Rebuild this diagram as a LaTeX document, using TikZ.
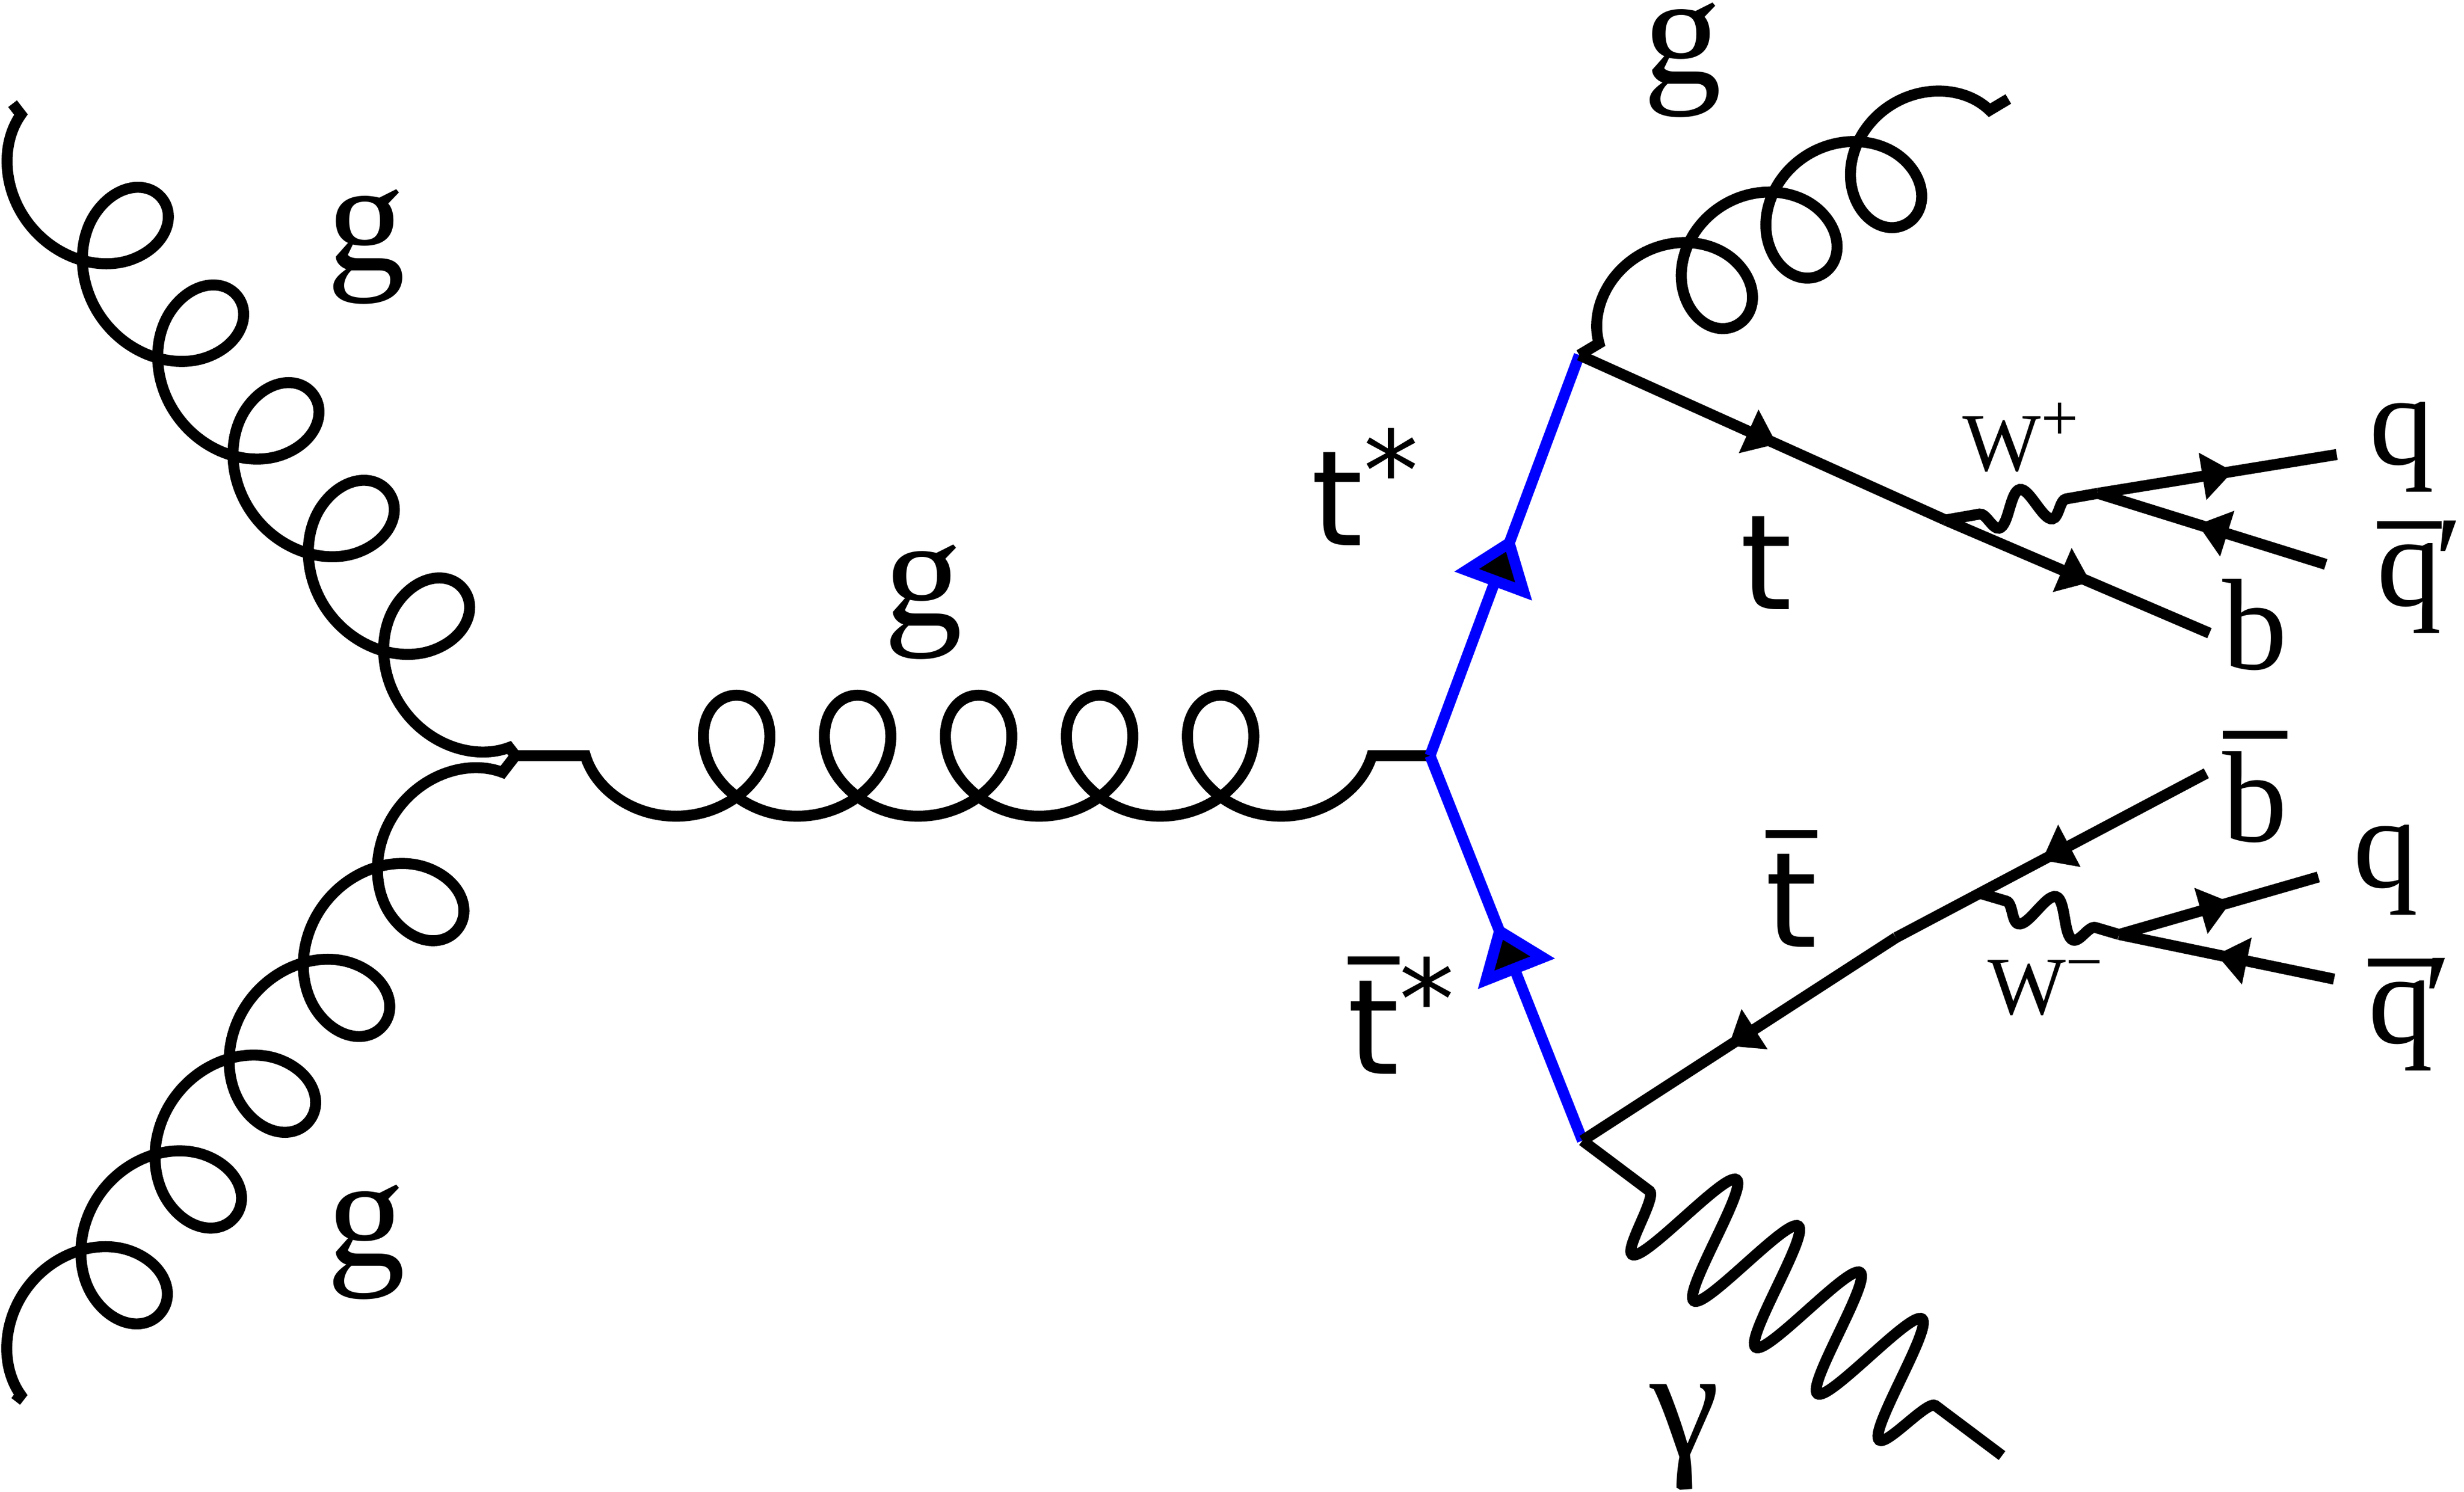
\documentclass[tikz,border=0pt]{standalone}
\usepackage{fontspec}
\setmainfont{Liberation Serif}
\newfontfamily\sansfont{DejaVu Sans}
\usetikzlibrary{arrows.meta,calc,decorations.pathmorphing,decorations.markings}
\newcommand{\ovl}[2][2.6pt]{\vbox{\hrule height 1.4pt\kern#1\hbox{#2}}}

\begin{document}
\begin{tikzpicture}[line width=0.07cm,
    every node/.style={inner sep=0pt, anchor=base},
    lbl/.style={font=\fontsize{28.5}{32}\selectfont},
    tlbl/.style={font=\sansfont\fontsize{24}{28}\selectfont, anchor=base west},
    qlbl/.style={font=\fontsize{23.5}{26}\selectfont},
    wlbl/.style={font=\fontsize{15}{17}\selectfont, anchor=base west},
    ftip/.tip={Triangle[length=5.6pt,width=8.3pt]},
    stip/.tip={Triangle[length=10pt,width=14.5pt,fill=black]},
    fermion/.style={postaction={decorate, decoration={markings,
        mark=at position #1 with {\arrow{ftip}}}}},
    fermion/.default=0.55,
    scalar/.style={blue, postaction={decorate, decoration={markings,
        mark=at position #1 with {\arrow{stip}}}}},
    scalar/.default=0.56,
    gluon/.style={decorate, decoration={coil, aspect=1, amplitude=0.385cm,
        segment length=0.77cm, #1}},
    boson/.style={decorate, decoration={snake, #1}}]

  \useasboundingbox (0,0) rectangle (15.68,-9.4935);

  \coordinate (V1) at (3.28,-4.81);
  \coordinate (V2) at (9.10,-4.81);
  \coordinate (V3) at (10.05,-2.26);
  \coordinate (V4) at (10.07,-7.26);
  \coordinate (gul) at (0.08,-0.66);
  \coordinate (gll) at (0.10,-8.92);
  \coordinate (gtr) at (12.78,-0.63);
  \coordinate (K1) at (12.38,-3.31);
  \coordinate (bE) at (14.06,-4.03);
  \coordinate (Wp) at (13.35,-3.14);
  \coordinate (qU) at (14.87,-2.893);
  \coordinate (qbU) at (14.80,-3.592);
  \coordinate (K2) at (12.065,-5.968);
  \coordinate (bbE) at (14.04,-4.922);
  \coordinate (Wm0) at ($(K2)!0.27!(bbE)$);
  \coordinate (Wm) at (13.485,-5.948);
  \coordinate (qL) at (14.753,-5.582);
  \coordinate (qbL) at (14.853,-6.232);
  \coordinate (phE) at (12.74,-9.265);

  \draw[gluon={pre length=0.37cm, post length=0.43cm}] (V2) -- (V1);
  \draw[gluon={segment length=0.785cm, pre length=0.066cm}] (V1) -- (gul);
  \draw[gluon={segment length=0.771cm, pre length=0.052cm}] (gll) -- (V1);
  \draw[gluon={amplitude=0.35cm, segment length=0.627cm, pre length=0.146cm,
      post length=0.08cm}] (V3) -- (gtr);

  \draw[scalar=0.553] (V2) -- (V3);
  \draw[scalar=0.567] (V4) -- (V2);

  \draw[fermion=0.54] (V3) -- (K1);
  \draw[fermion] (K1) -- (bE);
  \draw[fermion=0.534] (K2) -- (V4);
  \draw[fermion=0.53] (bbE) -- (K2);
  \draw[fermion=0.566] (Wp) -- (qU);
  \draw[fermion=0.562] (qbU) -- (Wp);
  \draw[fermion=0.56] (Wm) -- (qL);
  \draw[fermion=0.547] (qbL) -- (Wm);

  \draw[boson={amplitude=0.39cm, segment length=0.492cm, pre length=0.53cm,
      post length=0.52cm}] (phE) -- (V4);
  \draw[boson={amplitude=0.11cm, segment length=0.345cm, pre length=0.205cm,
      post length=0.21cm}] (Wp) -- (K1);
  \draw[boson={amplitude=0.117cm, segment length=0.365cm, pre length=0.156cm,
      post length=0.166cm}] (Wm) -- (Wm0);

  \node[lbl] (gul-l) at (2.33,-1.72) {g};
  \node[lbl] (gll-l) at (2.33,-8.056) {g};
  \node[lbl] (gm-l) at (5.875,-3.98) {g};
  \node[lbl] (gtr-l) at (10.707,-0.53) {g};
  \node[lbl] (ph-l) at (10.72,-9.27) {γ};
  \node[tlbl] (ts-l) at (8.31,-3.47) {t\raisebox{6.3pt}{\fontsize{20}{20}\selectfont*}};
  \node[tlbl] (tbs-l) at (8.54,-6.835) {\ovl[3pt]{t}\raisebox{6.3pt}{\fontsize{20}{20}\selectfont*}};
  \node[tlbl, anchor=base] (t-l) at (11.24,-3.88) {t};
  \node[tlbl, anchor=base] (tb-l) at (11.40,-6.03) {\ovl[3pt]{t}};
  \node[wlbl] (wp-l) at (12.455,-2.997) {W\raisebox{5.5pt}{\fontsize{12}{12}\selectfont+}};
  \node[wlbl] (wm-l) at (12.614,-6.455) {W\raisebox{5.5pt}{\fontsize{12}{12}\selectfont−}};
  \node[qlbl] (qu-l) at (15.285,-2.956) {q};
  \node[qlbl, anchor=base west] (qbu-l) at (15.09,-3.854) {\ovl{q}\kern-1.3pt′};
  \node[qlbl] (b-l) at (14.35,-4.26) {b};
  \node[qlbl] (bb-l) at (14.35,-5.355) {\ovl[2.3pt]{b}};
  \node[qlbl] (ql-l) at (15.18,-5.647) {q};
  \node[qlbl, anchor=base west] (qbl-l) at (15.035,-6.64) {\ovl{q}\kern-1.8pt′};
\end{tikzpicture}
\end{document}
